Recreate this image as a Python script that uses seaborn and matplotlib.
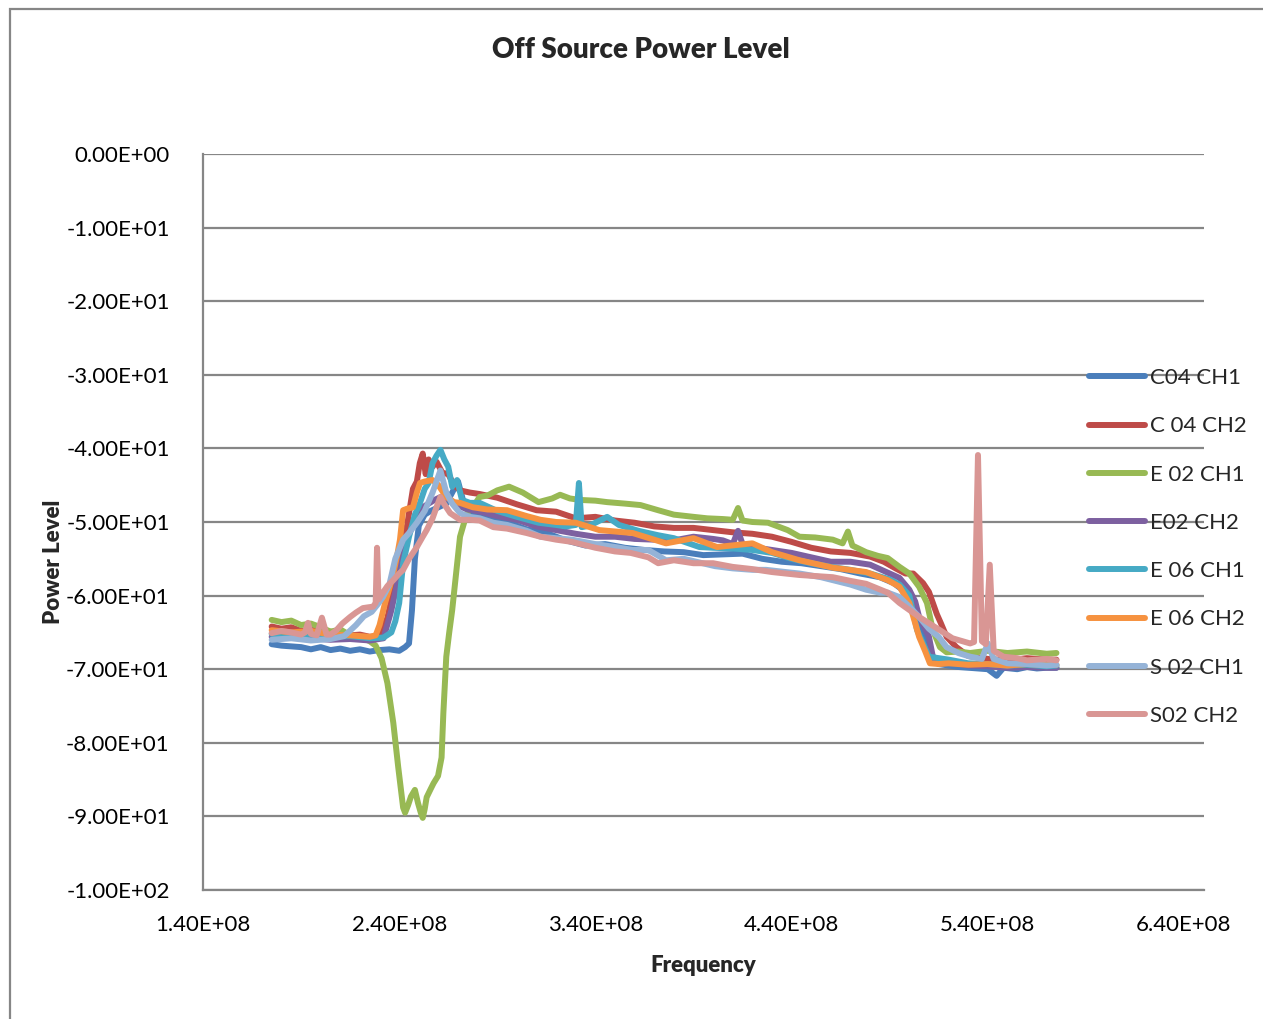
import numpy as np
import pandas as pd
import matplotlib
matplotlib.use('Agg')
import matplotlib.pyplot as plt
from matplotlib import ticker
from matplotlib.patches import Rectangle
import seaborn as sns

# frequencies in MHz, levels
c04_ch1_f = [175, 180, 185, 190, 195, 200, 205, 210, 215, 220, 225, 230, 235, 240, 243, 245, 246.5, 248, 250, 253,
             256, 260, 264, 268, 270, 273, 278, 285, 295, 305, 315, 325, 335, 345, 355, 365, 375, 385, 395, 405,
             415, 425, 435, 445, 455, 465, 475, 485, 492, 498, 503, 507, 511, 515, 520, 525, 530, 535, 540, 544.5,
             548, 555, 560, 565, 570, 575]
c04_ch1_v = [-66.6, -66.8, -66.9, -67.0, -67.3, -67.0, -67.4, -67.2, -67.5, -67.3, -67.6, -67.4, -67.3, -67.5, -67.0,
             -66.5, -62, -55, -50.5, -49, -48.5, -48, -47.5, -45.5, -44.5, -47.5, -48.8, -49.3, -50, -51,
             -51.5, -52.5, -53.2, -53, -53.5, -53.8, -54, -54.1, -54.5, -54.4, -54.3, -55, -55.4, -55.6, -56.0,
             -56.4, -57.0, -57.5, -58.3, -59.5, -62, -65.5, -68.5, -69.3, -69.5, -69.7, -69.8, -69.9, -70.0, -70.9,
             -69.8, -70.0, -69.7, -69.9, -69.8, -69.8]

c04_ch2_f = [175, 180, 185, 190, 195, 200, 205, 210, 215, 220, 225, 230, 234, 238, 241, 244, 247, 249, 250.5, 252,
             253.5, 255, 257, 259, 262, 265, 268, 271, 276, 281, 290, 300, 310, 320, 330, 340, 350, 360, 370, 380,
             390, 400, 410, 420, 430, 440, 450, 460, 470, 480, 487, 493, 498, 502, 507, 510, 512, 514, 516, 519,
             524, 530, 540, 550, 560, 570, 575]
c04_ch2_v = [-64.2, -64.5, -64.3, -64.8, -64.6, -65.0, -64.9, -65.2, -65.4, -65.3, -65.6, -65.5, -63, -58, -54, -50.5,
             -45.5, -44.5, -42, -40.7, -43.5, -41.5, -42.5, -41.8, -43.3, -43.5, -45, -45.7, -46, -46.2,
             -46.7, -47.6, -48.4, -48.6, -49.5, -49.3, -49.8, -50.1, -50.6, -50.8, -50.8, -51.1, -51.4, -51.6,
             -52, -52.7, -53.5, -54, -54.2, -54.7, -55.4, -56.3, -57, -57, -58.3, -59.5, -61, -62.5, -63.7,
             -65.6, -67, -68.2, -68.6, -68.8, -68.5, -68.7, -68.7]

e02_ch1_f = [175, 180, 185, 190, 195, 200, 205, 210, 215, 220, 225, 228, 231, 234, 237, 239.5, 242, 243, 244.5, 246,
             248, 249.6, 251, 252, 253, 254, 256, 257.5, 259.8, 261.6, 262.5, 264, 265.5, 267, 269, 271, 274.5,
             278, 281, 285, 290, 296, 303, 311, 318, 322, 327, 332, 340, 346, 355, 363, 372, 380, 390, 397, 405,
             410, 412.7, 415, 420, 428, 438, 444, 452, 461, 466, 468.7, 471, 478, 484, 489, 495, 500, 505, 509,
             512, 515.6, 519, 525, 531, 540, 550, 560, 570, 575]
e02_ch1_v = [-63.3, -63.6, -63.4, -64.0, -63.8, -64.3, -64.9, -64.6, -65.4, -65.6, -66.2, -66.8, -68.5, -71.9, -77.3,
             -83.3, -88.8, -89.5, -88.5, -87.3, -86.4, -88.2, -89.5, -90.2, -89, -87.4, -86.3, -85.5, -84.5,
             -82, -76, -68.3, -65, -62, -57, -52, -48.8, -47.8, -46.6, -46.4, -45.7, -45.2, -46, -47.3, -46.8,
             -46.3, -46.8, -47, -47.1, -47.3, -47.5, -47.7, -48.4, -49, -49.3, -49.5, -49.6, -49.7, -48.1,
             -49.8, -50, -50.1, -51.1, -52, -52.1, -52.4, -52.9, -51.3, -53.2, -54.1, -54.6, -54.9, -56.1, -57,
             -58.8, -61, -64.7, -67, -67.7, -67.6, -67.8, -67.5, -67.8, -67.6, -67.9, -67.8]

e02_ch2_f = [175, 185, 195, 205, 215, 225, 232, 236, 240, 243, 246, 249, 252, 255, 258, 262, 266, 270, 275, 281,
             290, 300, 310, 320, 330, 340, 350, 360, 370, 380, 390, 400, 405, 410, 412.7, 415, 420, 430, 440, 450,
             460, 470, 480, 490, 495, 500, 503, 505, 508, 510, 512, 516, 520, 530, 540, 550, 560, 570, 575]
e02_ch2_v = [-65.6, -65.5, -65.8, -66.0, -65.9, -66.1, -65.8, -62, -57, -53, -51, -49.5, -48, -47.5, -47, -46.5,
             -47, -47.8, -48.3, -48.6, -49.2, -49.7, -50.6, -51.1, -51.6, -52, -52, -52.3, -52.4, -52.5, -52,
             -52.3, -52.5, -53, -51.2, -53, -53.4, -53.8, -54.2, -54.8, -55.4, -55.4, -55.8, -57, -57.6, -59.2,
             -60.8, -62.9, -64.5, -65.6, -68.3, -68.8, -69, -69.5, -69.6, -69.8, -69.7, -69.8, -69.8]

e06_ch1_f = [175, 185, 195, 205, 215, 225, 232, 236, 238, 240, 242, 245, 248, 250.6, 253, 255, 257, 259, 261, 263,
             265, 267, 269.5, 272, 276, 281, 290, 300, 311, 320, 325, 330, 331.6, 333, 337, 343, 346, 352, 362,
             372, 380, 393, 400, 410, 420, 430, 440, 450, 460, 470, 480, 490, 495, 500, 504, 507, 510, 515, 520,
             530, 540, 550, 560, 570, 575]
e06_ch1_v = [-65.2, -65.4, -65.3, -65.6, -65.5, -65.8, -65.7, -65, -63.5, -61, -55.6, -52, -49, -47.4, -45.5, -44.7,
             -42, -41, -40.2, -41.5, -42.5, -45.2, -44.3, -47, -47.4, -47.4, -48.5, -49.3, -50.1, -50.4, -50.6,
             -50.4, -44.7, -50.7, -50.5, -49.7, -49.3, -50.4, -51.2, -51.8, -52.2, -53.4, -53.5, -53.6, -53.8,
             -54.2, -55, -55.6, -56.1, -56.5, -57, -57.8, -58.5, -60, -64.7, -66.5, -68.3, -68.5, -68.7, -69.2,
             -69.3, -69.5, -69.4, -69.6, -69.5]

e06_ch2_f = [175, 185, 195, 205, 215, 225, 228, 230, 232.7, 235, 237, 239, 240.4, 242, 244, 247, 249, 250.6, 253,
             257, 260, 264, 268, 271, 277.6, 285, 295, 305, 312, 320, 330, 342, 359, 376, 390, 402, 420, 430,
             444, 461, 478, 489, 495, 500, 505, 508, 510.5, 515, 520, 530, 540, 550, 560, 570, 575]
e06_ch2_v = [-64.7, -65.0, -64.8, -65.3, -65.4, -65.6, -65.4, -64, -61.1, -59, -57, -54.5, -52.4, -48.4, -48.2, -48,
             -46, -44.7, -44.5, -44.3, -45, -46.6, -47.3, -47.4, -48, -48.3, -48.4, -49.2, -49.7, -50, -50.1,
             -51.1, -51.5, -52.9, -52.2, -53.4, -52.9, -54.1, -55.2, -56.2, -56.8, -57.9, -58.8, -61, -65.6,
             -67.5, -69.2, -69.3, -69.2, -69.4, -69.3, -69.5, -69.3, -69.4, -69.4]

s02_ch1_f = [175, 185, 195, 205, 212, 218, 222, 226, 229, 231.7, 235, 238, 242, 245, 249, 253, 257, 261, 264, 267,
             271, 276, 281, 288, 295, 305, 312, 320, 328, 340, 350, 359, 367, 376, 385, 393, 401, 410, 420, 427,
             437, 444, 455, 461, 470, 478, 485, 489, 495, 500, 505, 510, 515, 519, 525, 531, 537, 540, 543, 550,
             560, 570, 575]
s02_ch1_v = [-66.0, -65.8, -66.1, -65.9, -65.5, -64, -62.8, -62.2, -61.2, -60.2, -58.5, -55, -52.4, -51.5, -50.1,
             -48.5, -46, -43, -46, -47.5, -48.8, -49.3, -49.5, -50.1, -50.4, -51.2, -52, -52.2, -52.4, -53,
             -53.4, -53.8, -53.8, -55.2, -55, -55.5, -56, -56.3, -56.5, -56.5, -56.8, -57, -57.5, -57.9, -58.5,
             -59.2, -59.6, -59.6, -60.2, -61.5, -62.9, -64.5, -65.6, -67, -67.8, -68.3, -68.6, -66.5, -68.6,
             -69.2, -69.3, -69.5, -69.4]

s02_ch2_f = [175, 180, 185, 190, 192, 193.5, 195, 198, 200.6, 203, 205, 208, 211, 215, 218, 221.5, 224, 226.7, 228,
             228.7, 229.5, 231.7, 234, 237, 240, 242, 245, 249, 252, 254, 257, 259, 261, 263, 266, 271, 276, 281,
             288, 295, 305, 312, 320, 328, 340, 350, 358, 367, 372, 380, 390, 400, 410, 420, 430, 444, 461, 470,
             478, 489, 495, 505, 515.6, 522, 531, 533, 535, 537, 539, 541, 543, 548, 555, 560, 570, 575]
s02_ch2_v = [-65.1, -64.8, -65.0, -65.3, -65.0, -63.7, -65.2, -65.4, -63, -65.3, -65.3, -64.7, -63.8, -62.9, -62.3,
             -61.7, -61.6, -61.5, -61, -53.5, -60.5, -59.6, -58.7, -57.9, -57, -56.5, -55, -53.4, -52, -51.1,
             -49.5, -48, -46.6, -47.6, -48.8, -49.7, -49.7, -49.8, -50.7, -50.9, -51.5, -52, -52.4, -52.7, -53.5,
             -54, -54.2, -54.8, -55.6, -55.2, -55.6, -55.6, -56.1, -56.4, -56.8, -57.2, -57.5, -58.0, -58.4,
             -59.6, -61, -62.9, -64.7, -65.8, -66.5, -66.3, -40.9, -66.2, -66.6, -55.8, -67.5, -68.3, -68.5,
             -68.8, -68.6, -68.8]

series_names = ['C04 CH1', 'C 04 CH2', 'E 02 CH1', 'E02 CH2', 'E 06 CH1', 'E 06 CH2', 'S 02 CH1', 'S02 CH2']
series_f = [c04_ch1_f, c04_ch2_f, e02_ch1_f, e02_ch2_f, e06_ch1_f, e06_ch2_f, s02_ch1_f, s02_ch2_f]
series_v = [c04_ch1_v, c04_ch2_v, e02_ch1_v, e02_ch2_v, e06_ch1_v, e06_ch2_v, s02_ch1_v, s02_ch2_v]
colors = ['#4A7EBB', '#BE4B48', '#98B954', '#7D60A0', '#46AAC5', '#F69240', '#95B3D7', '#D99694']

frames = []
for name, f, v in zip(series_names, series_f, series_v):
    frames.append(pd.DataFrame({'freq': np.array(f) * 1e6, 'level': v, 'series': name}))
df = pd.concat(frames, ignore_index=True)

sns.set_style('white')
plt.rcParams['font.family'] = ['Lato', 'DejaVu Sans']

grid_col = '#868686'
fig = plt.figure(figsize=(12.63, 10.19), dpi=100)
ax = fig.add_axes([203 / 1263, 1 - 890 / 1019, 1001 / 1263, 736 / 1019])

sns.lineplot(data=df, x='freq', y='level', hue='series', hue_order=series_names,
             palette=colors, estimator=None, sort=False, linewidth=4.3, ax=ax)
for ln in ax.get_lines():
    ln.set_solid_capstyle('round')
    ln.set_solid_joinstyle('round')

ax.set_xlim(1.4e8, 6.502e8)
ax.set_ylim(-100, 0)
ax.set_xticks(np.arange(1.4e8, 6.41e8, 1e8))
ax.set_yticks(np.arange(-100, 1, 10))
fmt = ticker.FuncFormatter(lambda v, p: f'{v:.2E}')
ax.xaxis.set_major_formatter(fmt)
ax.yaxis.set_major_formatter(fmt)
ax.tick_params(axis='both', length=0, labelsize=16, colors='black')
ax.tick_params(axis='x', pad=18)
ax.tick_params(axis='y', pad=24)
ax.grid(axis='y', color=grid_col, linewidth=1.6)
ax.set_axisbelow(True)
for s in ['top', 'right']:
    ax.spines[s].set_visible(False)
for s in ['left', 'bottom']:
    ax.spines[s].set_color(grid_col)
    ax.spines[s].set_linewidth(1.6)
ax.set_xlabel('')
ax.set_ylabel('')

fig.text(703 / 1263, 1 - 966 / 1019, 'Frequency', ha='center', va='center', fontsize=16, fontweight='heavy')
fig.text(53 / 1263, 1 - 562 / 1019, 'Power Level', ha='center', va='center', rotation=90,
         fontsize=16, fontweight='heavy')
fig.text(641 / 1263, 1 - 50 / 1019, 'Off Source Power Level', ha='center', va='center',
         fontsize=20, fontweight='heavy')

handles, labels = ax.get_legend_handles_labels()
leg = ax.legend(handles, labels, loc='center left', bbox_to_anchor=(1089 / 1263, 1 - 547 / 1019),
                bbox_transform=fig.transFigure, frameon=False, fontsize=16, handlelength=2.5,
                handletextpad=0.25, labelspacing=1.27, borderpad=0, borderaxespad=0)
for ln in leg.get_lines():
    ln.set_linewidth(4.3)
    ln.set_solid_capstyle('round')

fig.patches.append(Rectangle((10 / 1263, -0.1), 1.2, 1.1 - 9 / 1019, transform=fig.transFigure,
                             fill=False, edgecolor=grid_col, linewidth=1.6))

fig.savefig('out.png', dpi=100)
